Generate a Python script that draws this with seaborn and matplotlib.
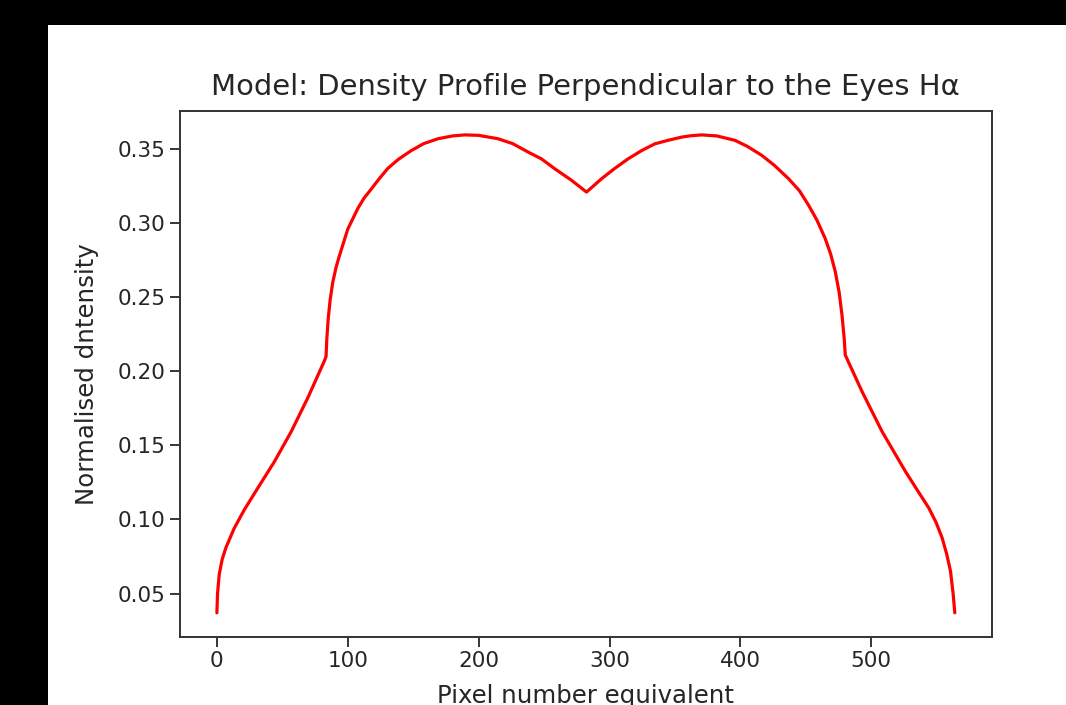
import matplotlib
matplotlib.use("Agg")
import matplotlib.pyplot as plt
import matplotlib.patches as mpatches
import pandas as pd
import seaborn as sns

# Profile samples: pixel position across the object and normalised intensity
pixel_position = [
    0.0, 0.5, 1.8, 4.0, 6.9, 13.2, 20.9, 31.1, 43.9, 56.6, 69.4, 82.1, 83.4,
    84.0, 85.0, 86.5, 88.5, 91.0, 93.6, 100.0, 107.7, 112.5, 117.9, 124.0,
    130.6, 138.5, 148.5, 158.0, 168.9, 180.0, 189.3, 200.0, 214.8, 226.0,
    237.8, 248.0, 258.2, 270.9, 282.4,
    293.9, 304.0, 314.3, 324.5, 334.7, 345.0, 355.1, 362.0, 370.4, 382.0,
    395.9, 405.0, 416.3, 426.0, 436.8, 445.0, 452.1, 458.5, 464.8, 469.0,
    472.5, 475.5, 477.6, 479.3, 480.1, 492.9, 508.2, 526.0, 535.0, 543.9,
    549.5, 554.1, 557.5, 560.5, 562.5, 563.8,
]
intensity = [
    0.037, 0.050, 0.063, 0.073, 0.081, 0.094, 0.1065, 0.121, 0.139, 0.159,
    0.182, 0.207, 0.210,
    0.222, 0.235, 0.248, 0.260, 0.270, 0.278, 0.296, 0.310, 0.317, 0.323,
    0.330, 0.337, 0.343, 0.349, 0.3537, 0.357, 0.3589, 0.3596, 0.3593,
    0.357, 0.3537, 0.348, 0.3434, 0.3367, 0.329, 0.321,
    0.330, 0.337, 0.3435, 0.349, 0.3536, 0.356, 0.3581, 0.3590, 0.3596,
    0.3589, 0.3559, 0.352, 0.3458, 0.339, 0.330, 0.322, 0.3121, 0.302,
    0.2896, 0.279, 0.2672, 0.253, 0.238, 0.222, 0.211, 0.1864, 0.1594,
    0.1325, 0.120, 0.1078, 0.098, 0.0876, 0.077, 0.0652, 0.050, 0.037,
]

title = "Model: Density Profile Perpendicular to the Eyes H\u03b1"
x_label = "Pixel number equivalent"
y_label = "Normalised dntensity"
x_ticks = [0, 100, 200, 300, 400, 500]
y_ticks = [0.05, 0.10, 0.15, 0.20, 0.25, 0.30, 0.35]

df = pd.DataFrame({"pixel": pixel_position, "intensity": intensity})

sns.set_style("ticks")
plt.rcParams["font.family"] = ["DejaVu Sans"]

W, H = 1066, 705
fig = plt.figure(figsize=(W / 100, H / 100), dpi=100, facecolor="black")

# white canvas inset within the dark surround
fig.patches.append(mpatches.Rectangle((48 / W, 0), 1 - 48 / W, 1 - 25 / H,
                                      transform=fig.transFigure,
                                      facecolor="white", edgecolor="none",
                                      zorder=-10))

ax = fig.add_axes([180 / W, 1 - 636.7 / H, (991.7 - 180) / W, (636.7 - 111) / H])
ax.set_facecolor("white")

sns.lineplot(data=df, x="pixel", y="intensity", ax=ax, color="red",
             linewidth=2.3, sort=False, estimator=None)

ax.margins(x=0.05, y=0.05)
ax.set_xticks(x_ticks)
ax.set_yticks(y_ticks)
ax.set_xticklabels([str(t) for t in x_ticks])
ax.set_yticklabels([f"{t:.2f}" for t in y_ticks])

tick_color = "#262626"
ax.tick_params(axis="both", labelsize=15.5, length=7, width=1.3,
               colors=tick_color, direction="out")
for s in ax.spines.values():
    s.set_visible(True)
    s.set_color("#333333")
    s.set_linewidth(1.4)

ax.set_title(title, fontsize=20.9, color=tick_color, pad=11.5)
ax.set_xlabel(x_label, fontsize=17.6, color=tick_color, labelpad=9.5)
ax.set_ylabel(y_label, fontsize=17.6, color=tick_color, labelpad=13)

fig.savefig("out.png", dpi=100, facecolor=fig.get_facecolor())
